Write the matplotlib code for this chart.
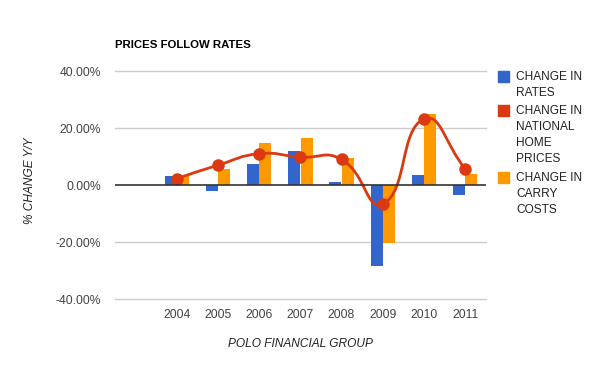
import matplotlib.pyplot as plt
import matplotlib.patches as mpatches
from matplotlib.path import Path
import numpy as np

plt.rcParams['font.family'] = ['Liberation Sans', 'DejaVu Sans']

# donnees (%)
years = ["2004", "2005", "2006", "2007", "2008", "2009", "2010", "2011"]
rates = [3.3, -2.0, 7.4, 11.9, 1.0, -28.4, 3.6, -3.5]
home_prices = [2.3, 7.0, 11.0, 9.8, 9.0, -6.7, 23.2, 5.8]
carry_costs = [3.3, 5.6, 14.7, 16.6, 9.5, -20.2, 25.0, 3.9]

blue = "#3366CC"
red = "#DC3912"
orange = "#FF9900"

fig = plt.figure(figsize=(6, 3.71), dpi=100)
ax = fig.add_axes([115/600, 71.7/371, 370.7/600, 228.3/371])

x = np.arange(1, len(years) + 1)   # la premiere case reste vide
w = 0.29
ax.bar(x - 0.15, rates, w, color=blue, zorder=2)
ax.bar(x + 0.15, carry_costs, w, color=orange, zorder=2)

# courbe lissee (bezier) a travers les points, comme curveType 'function'
sx, sy = 41.2, 2.86   # pixels par unite, pour calculer les points de controle
px = np.array(x, dtype=float)
py = np.array(home_prices, dtype=float)
n = len(px)
t = 0.5
cps = []
for i in range(n):
    p0 = i - 1 if i > 0 else i
    p2 = i + 1 if i < n - 1 else i
    d01 = np.hypot((px[i] - px[p0]) * sx, (py[i] - py[p0]) * sy)
    d12 = np.hypot((px[p2] - px[i]) * sx, (py[p2] - py[i]) * sy)
    tot = d01 + d12 if d01 + d12 > 0 else 1
    fa = t * d01 / tot
    fb = t * d12 / tot
    dx = px[p2] - px[p0]
    dy = py[p2] - py[p0]
    cps.append(((px[i] - fa * dx, py[i] - fa * dy), (px[i] + fb * dx, py[i] + fb * dy)))
verts = [(px[0], py[0])]
codes = [Path.MOVETO]
for i in range(n - 1):
    verts += [cps[i][1], cps[i + 1][0], (px[i + 1], py[i + 1])]
    codes += [Path.CURVE4] * 3
ax.add_patch(mpatches.PathPatch(Path(verts, codes), fill=False, edgecolor=red, lw=2, zorder=3))
ax.plot(x, home_prices, "o", color=red, ms=8, zorder=4)

ax.set_xlim(-0.5, 8.5)
ax.set_ylim(-40, 40)
ax.set_xticks(x)
ax.set_xticklabels(years)
yt = [-40, -20, 0, 20, 40]
ax.set_yticks(yt)
ax.set_yticklabels(["%.2f%%" % v for v in yt])
ax.tick_params(length=0, labelsize=8.7, colors="#444444")
ax.tick_params(axis="y", pad=10)
ax.tick_params(axis="x", pad=7)
for s in ax.spines.values():
    s.set_visible(False)
for v in yt:
    if v != 0:
        ax.axhline(v, color="#cccccc", lw=1, zorder=0, clip_on=False)
ax.axhline(0, color="#333333", lw=1.2, zorder=5)

fig.text(115/600, 1 - 45/371, "PRICES FOLLOW RATES", fontsize=8.2, fontweight="bold", va="center", ha="left")
fig.text(300/600, 1 - 344/371, "POLO FINANCIAL GROUP", fontsize=8.6, style="italic", color="#222222", ha="center", va="center")
fig.text(30/600, 1 - 181/371, "% CHANGE Y/Y", fontsize=8.6, style="italic", color="#222222", rotation=90, ha="center", va="center")

# legende faite a la main
legend = [(blue, ["CHANGE IN", "RATES"]),
          (red, ["CHANGE IN", "NATIONAL", "HOME", "PRICES"]),
          (orange, ["CHANGE IN", "CARRY", "COSTS"])]
ytop = 76.5
for col, lines in legend:
    fig.patches.append(mpatches.Rectangle((498/600, 1 - (ytop + 5.5)/371), 11/600, 11/371,
                                          transform=fig.transFigure, color=col))
    for j, txt in enumerate(lines):
        fig.text(516/600, 1 - (ytop + 16.2*j)/371, txt, fontsize=8.6, color="#222222", va="center", ha="left")
    ytop += 16.2 * len(lines) + 2

fig.savefig("out.png", dpi=100)
